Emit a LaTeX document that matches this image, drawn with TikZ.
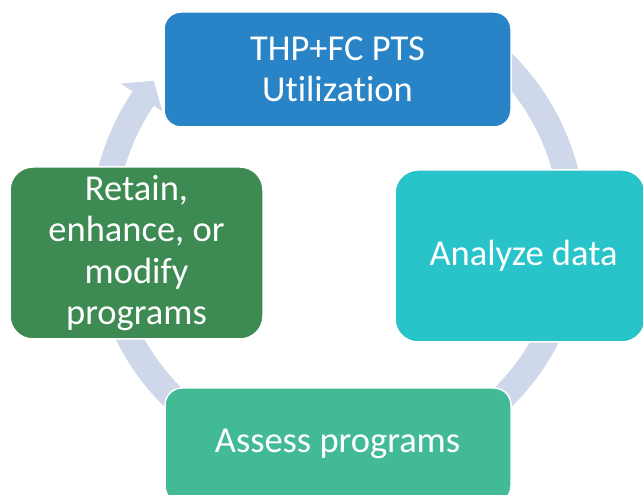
\documentclass[tikz,border=0pt]{standalone}
\usepackage{fontspec}
\setmainfont{Carlito}[Ligatures={NoCommon}]
\usetikzlibrary{calc}
\definecolor{ringc}{RGB}{206,216,234}
\definecolor{topc}{RGB}{40,132,198}
\definecolor{rightc}{RGB}{41,196,202}
\definecolor{botc}{RGB}{67,186,150}
\definecolor{leftc}{RGB}{62,138,83}
\begin{document}
\begin{tikzpicture}[x=1pt,y=1pt,
  lbl/.style={text=white, align=center, inner sep=0pt, font=\fontsize{36.5}{41.5}\selectfont},
  box/.style={rectangle, draw=white, line width=1.5pt, lbl},
  ring/.style={draw=ringc, line width=25.5pt}]
\useasboundingbox (0,0) rectangle (643,495);
\clip (0,0) rectangle (643,495);
\coordinate (C) at (338,265);
% continuous cycle ring
\draw[ring] ($(C)+(60:235)$) arc[start angle=60, end angle=-214.5, radius=235];
\coordinate (hOut) at ($(C)+(146:262)$);
\coordinate (hTip) at ($(C)+(141:237)$);
\coordinate (hIn) at ($(C)+(146:212)$);
\fill[ringc] (hOut) -- (hTip) -- (hIn) -- cycle;
% nodes
\node[box, fill=topc, rounded corners=17pt, minimum width=347pt, minimum height=115pt]
  (top) at (337.5,425.5) {THP+FC PTS\\Utilization};
\node[box, fill=rightc, rounded corners=23pt, minimum width=250pt, minimum height=172pt]
  (right) at (520,239) {};
\node[lbl] (rightt) at (523.5,239) {Analyze data};
\node[box, fill=botc, rounded corners=17pt, minimum width=346pt, minimum height=115pt]
  (bottom) at (338,49.5) {};
\node[lbl] (bottomt) at (337.5,51) {Assess programs};
\node[box, fill=leftc, rounded corners=23pt, minimum width=253pt, minimum height=172pt]
  (left) at (136.5,242) {Retain,\\enhance, or\\modify\\programs};
\end{tikzpicture}
\end{document}
